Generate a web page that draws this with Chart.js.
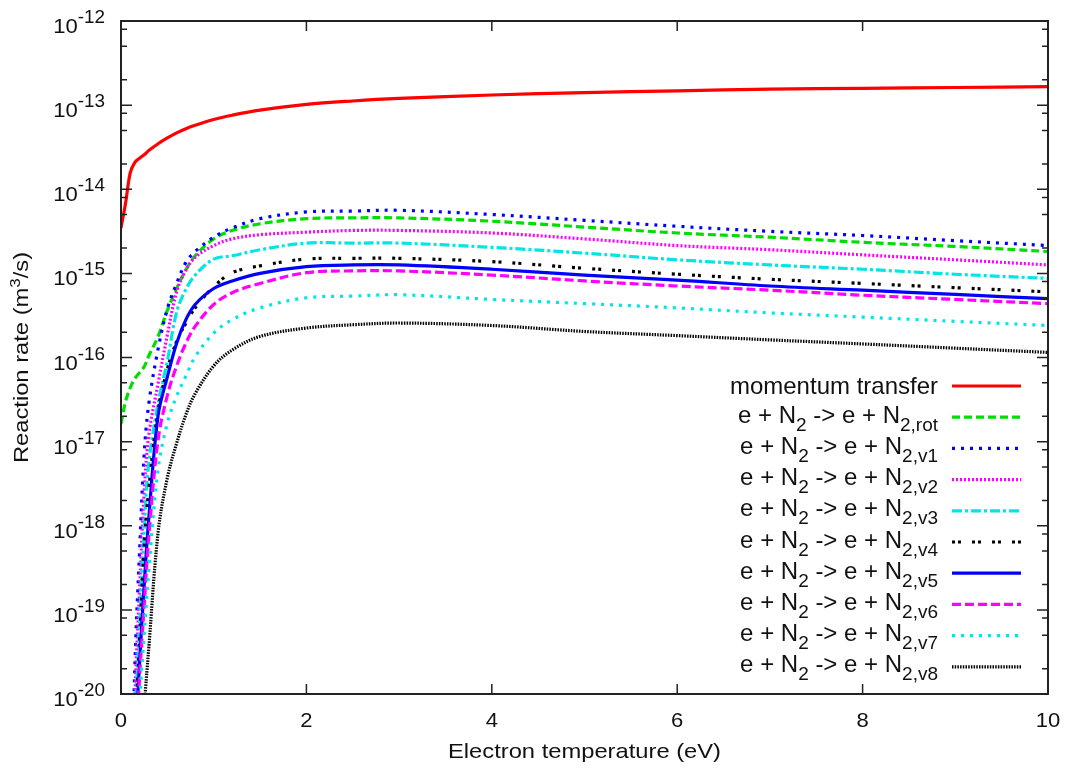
<!DOCTYPE html>
<html>
<head>
<meta charset="utf-8">
<title>Reaction rates e + N2</title>
<script src="https://cdn.jsdelivr.net/npm/chart.js@4.4.1/dist/chart.umd.min.js"></script>
<style>
  html, body { margin: 0; padding: 0; background: #fff; }
  #wrap { width: 1073px; height: 773px; }
</style>
</head>
<body>
<div id="wrap"><canvas id="rateChart" width="1073" height="773"></canvas></div>
<script>
// ============================
// Data
// ============================
const temps = [0, 0.05, 0.1, 0.15, 0.2, 0.25, 0.3, 0.4, 0.5, 0.6, 0.7, 0.8, 1.0, 1.2, 1.5, 2, 2.5, 3, 4, 5, 6, 7, 8, 9, 10];

const momentumTransfer = [3.47e-15, 6.92e-15, 1.58e-14, 2.09e-14, 2.34e-14, 2.57e-14, 2.88e-14, 3.47e-14, 4.07e-14, 4.68e-14, 5.25e-14, 5.75e-14, 6.76e-14, 7.59e-14, 8.71e-14, 1.02e-13, 1.12e-13, 1.20e-13, 1.32e-13, 1.41e-13, 1.48e-13, 1.55e-13, 1.58e-13, 1.62e-13, 1.66e-13];
const rot = [1.62e-17, 3.02e-17, 4.37e-17, 5.62e-17, 6.61e-17, 7.76e-17, 1.05e-16, 1.78e-16, 3.63e-16, 6.61e-16, 1.10e-15, 1.62e-15, 2.57e-15, 3.24e-15, 3.89e-15, 4.47e-15, 4.57e-15, 4.57e-15, 4.17e-15, 3.55e-15, 3.02e-15, 2.69e-15, 2.34e-15, 2.09e-15, 1.82e-15];
const v1 = [null, null, 1e-22, 2.24e-20, 4.90e-19, 7.08e-18, 2.82e-17, 1.26e-16, 3.80e-16, 7.59e-16, 1.35e-15, 1.82e-15, 2.69e-15, 3.47e-15, 4.47e-15, 5.37e-15, 5.50e-15, 5.62e-15, 5.01e-15, 4.27e-15, 3.63e-15, 3.16e-15, 2.82e-15, 2.45e-15, 2.14e-15];
const v2 = [null, null, 1e-23, 8.32e-21, 1.74e-19, 2.45e-18, 1.20e-17, 4.90e-17, 1.86e-16, 6.03e-16, 1.10e-15, 1.55e-15, 2.14e-15, 2.57e-15, 2.88e-15, 3.09e-15, 3.24e-15, 3.24e-15, 3.02e-15, 2.57e-15, 2.14e-15, 1.91e-15, 1.66e-15, 1.45e-15, 1.26e-15];
const v3 = [null, null, 1e-23, 3.80e-21, 6.17e-20, 9.33e-19, 5.62e-18, 2.88e-17, 9.12e-17, 3.47e-16, 6.46e-16, 9.55e-16, 1.48e-15, 1.62e-15, 1.91e-15, 2.29e-15, 2.29e-15, 2.29e-15, 2.04e-15, 1.74e-15, 1.45e-15, 1.26e-15, 1.12e-15, 9.77e-16, 8.71e-16];
const v4 = [null, null, 1e-23, 2.88e-21, 4.07e-20, 5.75e-19, 2.69e-18, 2.34e-17, 7.24e-17, 1.55e-16, 2.57e-16, 3.89e-16, 6.92e-16, 1.02e-15, 1.23e-15, 1.48e-15, 1.51e-15, 1.51e-15, 1.38e-15, 1.15e-15, 9.77e-16, 8.51e-16, 7.59e-16, 6.76e-16, 6.03e-16];
const v5 = [null, null, 1e-23, 1.66e-21, 2.29e-20, 1.95e-19, 1.23e-18, 2.04e-17, 5.89e-17, 1.48e-16, 2.82e-16, 4.27e-16, 6.61e-16, 8.13e-16, 1.00e-15, 1.20e-15, 1.26e-15, 1.26e-15, 1.12e-15, 9.55e-16, 8.32e-16, 7.08e-16, 6.31e-16, 5.62e-16, 5.01e-16];
const v6 = [null, null, 1e-23, 1.00e-21, 1.55e-20, 1.12e-19, 7.41e-19, 1.05e-17, 3.55e-17, 7.94e-17, 1.48e-16, 2.34e-16, 4.27e-16, 5.89e-16, 7.59e-16, 1.02e-15, 1.07e-15, 1.07e-15, 9.55e-16, 8.13e-16, 7.08e-16, 6.31e-16, 5.50e-16, 4.90e-16, 4.37e-16];
const v7 = [null, null, 1e-24, 5.62e-22, 7.59e-21, 5.13e-20, 2.95e-19, 4.68e-18, 1.66e-17, 3.47e-17, 6.03e-17, 1.02e-16, 1.95e-16, 2.82e-16, 3.89e-16, 5.13e-16, 5.37e-16, 5.57e-16, 4.90e-16, 4.37e-16, 3.89e-16, 3.39e-16, 3.02e-16, 2.69e-16, 2.40e-16];
const v8 = [null, null, null, null, 5.62e-22, 6.61e-21, 3.55e-20, 8.32e-19, 3.72e-18, 9.55e-18, 2.09e-17, 3.72e-17, 7.94e-17, 1.23e-16, 1.78e-16, 2.24e-16, 2.45e-16, 2.57e-16, 2.40e-16, 2.04e-16, 1.82e-16, 1.62e-16, 1.45e-16, 1.29e-16, 1.15e-16];

// legend subscripts ("" = plain label)
const stateNames = ["", "rot", "v1", "v2", "v3", "v4", "v5", "v6", "v7", "v8"];

// tick labels
const xTickValues = [0, 2, 4, 6, 8, 10];
const yDecades = [-12, -13, -14, -15, -16, -17, -18, -19, -20];
const yMinorSteps = [2, 5, 8];

// ============================
// Styles
// ============================
const FONT = '"Liberation Sans", Arial, Helvetica, sans-serif';
const TEXT = "#111";

const lineStyles = [
  { color: "#ff0000", dash: [] },              // momentum transfer
  { color: "#00dd00", dash: [8, 4] },          // rot
  { color: "#0000ff", dash: [3, 6] },          // v1
  { color: "#ff00ff", dash: [2, 2] },          // v2
  { color: "#00e6e6", dash: [10, 3, 3, 3] },   // v3
  { color: "#000000", dash: [3, 3, 3, 11] },   // v4
  { color: "#0000ff", dash: [] },              // v5
  { color: "#ff00ff", dash: [9, 4] },          // v6
  { color: "#00e6e6", dash: [3, 6] },          // v7
  { color: "#000000", dash: [1.5, 1.2] }       // v8
];

const series = [momentumTransfer, rot, v1, v2, v3, v4, v5, v6, v7, v8];

// draws text made of pieces (for super/subscripts), stretched a bit sideways
function drawRich(ctx, parts, x, y, align, sx) {
  sx = sx || 1;
  let total = 0;
  const widths = parts.map(p => {
    ctx.font = p.size + "px " + FONT;
    const w = ctx.measureText(p.t).width * sx;
    total += w;
    return w;
  });
  let cx = x;
  if (align === "right") cx = x - total;
  else if (align === "center") cx = x - total / 2;
  parts.forEach((p, i) => {
    ctx.save();
    ctx.font = p.size + "px " + FONT;
    ctx.fillStyle = TEXT;
    ctx.textAlign = "left";
    ctx.textBaseline = "alphabetic";
    ctx.translate(cx, y + (p.dy || 0));
    ctx.scale(sx, 1);
    ctx.fillText(p.t, 0, 0);
    ctx.restore();
    cx += widths[i];
  });
}

function legendParts(name) {
  if (!name) return [{ t: "momentum transfer", size: 24 }];
  return [
    { t: "e + N", size: 24 },
    { t: "2", size: 19, dy: 8 },
    { t: " -> e + N", size: 24 },
    { t: "2," + name, size: 19, dy: 8 }
  ];
}

// ============================
// Frame, inward tics, labels, key
// ============================
const gnuplotLook = {
  id: "gnuplotLook",
  afterDatasetsDraw(chart) {
    const { ctx, chartArea: a, scales: { x, y } } = chart;
    ctx.save();
    ctx.strokeStyle = "#222";
    ctx.lineWidth = 1.5;
    ctx.setLineDash([]);
    ctx.beginPath();
    yDecades.forEach(e => {
      const py = y.getPixelForValue(Math.pow(10, e));
      ctx.moveTo(a.left, py); ctx.lineTo(a.left + 11, py);
      ctx.moveTo(a.right, py); ctx.lineTo(a.right - 11, py);
      if (e < -12) {
        yMinorSteps.forEach(m => {
          const pm = y.getPixelForValue(m * Math.pow(10, e));
          ctx.moveTo(a.left, pm); ctx.lineTo(a.left + 6, pm);
          ctx.moveTo(a.right, pm); ctx.lineTo(a.right - 6, pm);
        });
      }
    });
    xTickValues.forEach(v => {
      const px = x.getPixelForValue(v);
      ctx.moveTo(px, a.bottom); ctx.lineTo(px, a.bottom - 10);
      ctx.moveTo(px, a.top); ctx.lineTo(px, a.top + 10);
    });
    ctx.stroke();

    ctx.lineWidth = 2;
    ctx.strokeRect(a.left, a.top, a.width, a.height);
    ctx.restore();
  },
  afterDraw(chart) {
    const { ctx, chartArea: a, scales: { x, y } } = chart;
    ctx.save();

    // y tick labels 10^e
    yDecades.forEach(e => {
      const py = y.getPixelForValue(Math.pow(10, e));
      drawRich(ctx, [{ t: "10", size: 21 }, { t: String(e), size: 18, dy: -10 }], a.left - 16, py + 12, "right", 1.05);
    });

    // x tick labels
    xTickValues.forEach(v => {
      drawRich(ctx, [{ t: String(v), size: 21 }], x.getPixelForValue(v), a.bottom + 33, "center", 1.05);
    });

    // axis titles
    drawRich(ctx, [{ t: "Electron temperature (eV)", size: 21 }], (a.left + a.right) / 2, a.bottom + 64, "center", 1.13);

    ctx.save();
    ctx.translate(28, (a.top + a.bottom) / 2);
    ctx.rotate(-Math.PI / 2);
    drawRich(ctx, [
      { t: "Reaction rate (m", size: 21 },
      { t: "3", size: 15, dy: -8 },
      { t: "/s)", size: 21 }
    ], 0, 0, "center", 1.13);
    ctx.restore();

    // key
    const textRight = a.right - 110;
    const sampleL = a.right - 96;
    const sampleR = a.right - 27;
    chart.data.datasets.forEach((ds, i) => {
      const ly = a.top + 365 + i * 31.2;
      const name = stateNames[i];
      drawRich(ctx, legendParts(name), textRight, ly + (name ? 5.5 : 8), "right", 1);
      ctx.save();
      ctx.strokeStyle = ds.borderColor;
      ctx.lineWidth = ds.borderWidth;
      ctx.setLineDash(ds.borderDash);
      ctx.beginPath();
      ctx.moveTo(sampleL, ly);
      ctx.lineTo(sampleR, ly);
      ctx.stroke();
      ctx.restore();
    });

    ctx.restore();
  }
};

// ============================
// Chart
// ============================
const ctx = document.getElementById("rateChart").getContext("2d");

const datasets = series.map((vals, i) => ({
  label: stateNames[i] ? "e + N2 -> e + N2," + stateNames[i] : "momentum transfer",
  data: temps.map((t, k) => ({ x: t, y: vals[k] })),
  borderColor: lineStyles[i].color,
  borderDash: lineStyles[i].dash,
  borderWidth: 3.2,
  borderCapStyle: "butt",
  pointRadius: 0,
  fill: false,
  tension: 0.35,
  order: series.length - i
}));

const rateChart = new Chart(ctx, {
  type: "line",
  data: { datasets },
  options: {
    responsive: false,
    animation: false,
    devicePixelRatio: 1,
    layout: { padding: { top: 21, right: 25, left: 0, bottom: 0 } },
    plugins: {
      legend: { display: false },
      tooltip: { enabled: false }
    },
    scales: {
      x: {
        type: "linear",
        min: 0,
        max: 10,
        ticks: { display: false },
        grid: { display: false },
        border: { display: false },
        afterFit(s) { s.height = 79; }
      },
      y: {
        type: "logarithmic",
        min: 1e-20,
        max: 1e-12,
        ticks: { display: false },
        grid: { display: false },
        border: { display: false },
        afterFit(s) { s.width = 121; }
      }
    }
  },
  plugins: [gnuplotLook]
});
</script>
</body>
</html>
